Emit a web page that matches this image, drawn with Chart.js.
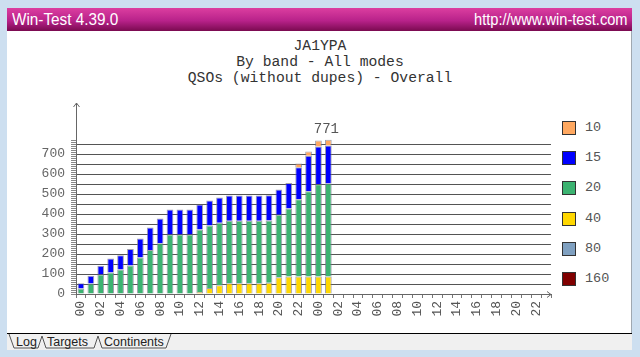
<!DOCTYPE html>
<html>
<head>
<meta charset="utf-8">
<script src="https://cdn.jsdelivr.net/npm/chart.js@4/dist/chart.umd.min.js"></script>
<style>
  body { margin: 0; width: 640px; height: 357px; background: #cddff0; position: relative; overflow: hidden; font-family: "Liberation Mono", monospace; }
  #head { position: absolute; left: 7px; top: 8px; width: 625px; height: 23px; background: linear-gradient(#dc3ea0, #b8228a 55%, #7a0a50); color: #fff; font-family: "Liberation Sans", sans-serif; font-size: 17px; line-height: 23px; }
  #head .l { position: absolute; left: 5px; transform: scaleX(0.9); transform-origin: left center; }
  #head .r { position: absolute; right: 4px; transform: scaleX(0.86); transform-origin: right center; }
  #panel { position: absolute; left: 7px; top: 31px; width: 624px; height: 302px; background: #fff; border-right: 1px solid #a0a8b0; }
  #titles { position: absolute; left: 0; top: 38px; width: 640px; text-align: center; font-size: 14.7px; line-height: 16px; color: #333; }
  #legend .item { position: absolute; left: 562px; height: 14px; font-size: 13.5px; line-height: 14px; color: #555; }
  #legend .sw { position: absolute; left: 0; top: 0; width: 12px; height: 12px; border: 1px solid #333; }
  #legend .tx { position: absolute; left: 23px; top: 0; }
  canvas { position: absolute; left: 0; top: 0; }
  svg { position: absolute; left: 0; top: 0; }
</style>
</head>
<body>
<div id="head"><span class="l">Win-Test 4.39.0</span><span class="r">http://www.win-test.com</span></div>
<div id="panel"></div>
<div id="titles">JA1YPA<br>By band - All modes<br>QSOs (without dupes) - Overall</div>
<div id="legend"></div>
<svg width="640" height="357">
  <rect x="7" y="333" width="625" height="17" fill="#f0f0f0"/>
  <line x1="7" y1="333.5" x2="632" y2="333.5" stroke="#000"/>
  <polyline points="9,334 14,348 38,348 42,336 46,348 94,348 98,336 102,348 166,348 171,334" fill="none" stroke="#555"/>
  <g font-family="Liberation Sans, Arial, sans-serif" font-size="12.5" fill="#222">
    <text x="16" y="346">Log</text>
    <text x="47" y="346">Targets</text>
    <text x="104" y="346">Continents</text>
  </g>
</svg>
<canvas id="chart" width="640" height="357"></canvas>
<script>
// hours 00..23 over two days
const hours = ['00','01','02','03','04','05','06','07','08','09','10','11','12','13','14','15','16','17','18','19','20','21','22','23',
               '00','01','02','03','04','05','06','07','08','09','10','11','12','13','14','15','16','17','18','19','20','21','22','23'];

// legend order (top to bottom)
const bands = ['10', '15', '20', '40', '80', '160'];
const bandColors = ['#ffa860', '#0000ff', '#3cb371', '#ffd700', '#7fa0c0', '#800000'];

// cumulative QSOs per band, one value per hour
const qso10  = [0,0,0,0,0,0,0,0,0,0,0,0,0,0,0,0,0,0,0,0,0,0,18,22,29,29];
const qso15  = [26,38,44,71,71,82,95,112,124,126,126,126,126,126,126,126,126,126,126,126,127,127,160,177,189,190];
const qso20  = [28,53,97,107,123,143,183,220,254,297,297,297,312,312,312,312,312,312,312,312,312,340,386,426,461,464];
const qso40  = [0,0,0,0,0,0,0,0,0,0,0,0,10,30,44,54,54,54,54,56,84,88,88,88,88,88];
const qso80  = [0,0,0,0,0,0,0,0,0,0,0,0,0,0,0,0,0,0,0,0,0,0,0,0,0,0];
const qso160 = [0,0,0,0,0,0,0,0,0,0,0,0,0,0,0,0,0,0,0,0,0,0,0,0,0,0];

const seriesByBand = { '10': qso10, '15': qso15, '20': qso20, '40': qso40, '80': qso80, '160': qso160 };

// legend
const legendEl = document.getElementById('legend');
bands.forEach((b, i) => {
  const d = document.createElement('div');
  d.className = 'item';
  d.style.top = (121 + i * 30.2) + 'px';
  d.innerHTML = `<span class="sw" style="background:${bandColors[i]}"></span><span class="tx">${b}</span>`;
  legendEl.appendChild(d);
});

// stack from bottom (160) to top (10)
const datasets = bands.slice().reverse().map(b => ({
  label: b,
  data: seriesByBand[b],
  backgroundColor: bandColors[bands.indexOf(b)],
  borderColor: 'rgba(120,120,140,0.7)',
  borderWidth: 1,
  categoryPercentage: 1,
  barPercentage: 0.68
}));

const lastIdx = qso20.length - 1;
const total = bands.reduce((s, b) => s + seriesByBand[b][lastIdx], 0);

const extras = {
  id: 'extras',
  afterDraw(chart) {
    const { ctx, chartArea: a } = chart;
    ctx.save();
    ctx.strokeStyle = '#666';
    ctx.lineWidth = 1;
    // y axis arrow
    const x0 = Math.round(a.left) + 0.5;
    ctx.beginPath();
    ctx.moveTo(x0, a.top);
    ctx.lineTo(x0, 103);
    ctx.moveTo(x0 - 3, 107);
    ctx.lineTo(x0, 103);
    ctx.lineTo(x0 + 3, 107);
    ctx.stroke();
    // x axis arrow
    const y0 = Math.round(a.bottom) + 0.5;
    ctx.beginPath();
    ctx.moveTo(a.right - 4, y0 - 3);
    ctx.lineTo(a.right, y0);
    ctx.lineTo(a.right - 4, y0 + 3);
    ctx.stroke();
    // total label
    const x = chart.scales.x.getPixelForValue(lastIdx);
    const y = chart.scales.y.getPixelForValue(total);
    ctx.fillStyle = '#555';
    ctx.font = '14px "Liberation Mono", monospace';
    ctx.textAlign = 'center';
    ctx.textBaseline = 'bottom';
    ctx.fillText(String(total), x - 2, y - 4);
    ctx.restore();
  }
};

const tickFont = { family: '"Liberation Mono", monospace', size: 13 };

new Chart(document.getElementById('chart'), {
  type: 'bar',
  data: { labels: hours, datasets },
  options: {
    responsive: false,
    animation: false,
    devicePixelRatio: 1,
    layout: { padding: { left: 0, right: 89, top: 124, bottom: 0 } },
    plugins: { legend: { display: false }, tooltip: { enabled: false } },
    scales: {
      x: {
        stacked: true,
        afterFit(s) { s.height = 63; },
        grid: { drawOnChartArea: false, tickLength: 4, tickColor: '#777', offset: true },
        border: { color: '#666' },
        ticks: {
          autoSkip: false, minRotation: 90, maxRotation: 90, padding: 3,
          font: tickFont, color: '#555',
          callback: (v, i) => (i % 2 === 0 ? hours[i] : '')
        }
      },
      y: {
        stacked: true,
        min: 0,
        max: 850,
        afterFit(s) { s.width = 76; },
        border: { color: '#666' },
        grid: {
          tickLength: 5,
          color: c => (c.tick && c.tick.value > 0 && c.tick.value <= 750 && c.tick.value % 50 === 0) ? '#555' : 'rgba(0,0,0,0)',
          tickColor: c => (c.tick && c.tick.value <= 770) ? '#888' : 'rgba(0,0,0,0)'
        },
        ticks: {
          stepSize: 10, autoSkip: false, padding: 6,
          font: tickFont, color: '#666',
          callback: v => (v % 100 === 0 && v <= 700 ? v : '')
        }
      }
    }
  },
  plugins: [extras]
});
</script>
</body>
</html>
